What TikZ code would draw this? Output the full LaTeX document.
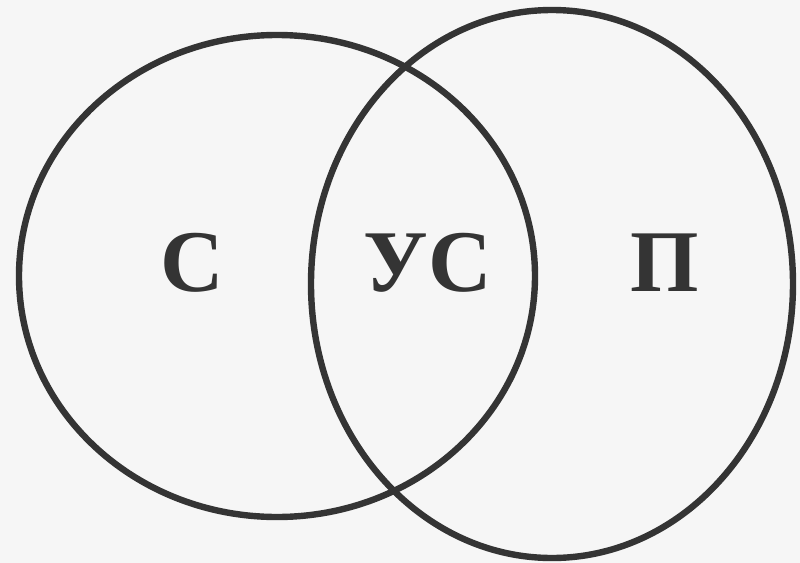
\documentclass[tikz,border=0pt]{standalone}
\usepackage{fontspec}
\setmainfont{Liberation Serif}
\usepackage{xcolor}
\usetikzlibrary{positioning}
\definecolor{ink}{RGB}{52, 52, 52}
\definecolor{paper}{RGB}{246, 246, 246}

\begin{document}
\begin{tikzpicture}[
    x=0.5pt, y=-0.5pt,
    ring/.style={draw=ink, line width=3.2pt},
    setlabel/.style={text=ink, font=\fontsize{44}{44}\selectfont\bfseries, inner sep=0pt}
]

    % Background
    \fill [paper] (0,0) rectangle (800,563);
    \useasboundingbox (0,0) rectangle (800,563);

    % Sets
    \draw [ring] (277,276) ellipse [x radius=129pt, y radius=120.5pt];
    \draw [ring] (552,284) ellipse [x radius=120.5pt, y radius=137pt];

    % Labels
    \node [setlabel] (s) at (192,263) {С};
    \node [setlabel] (us) at (428,263) {УС};
    \node [setlabel] (p) at (665,263) {П};

\end{tikzpicture}
\end{document}
